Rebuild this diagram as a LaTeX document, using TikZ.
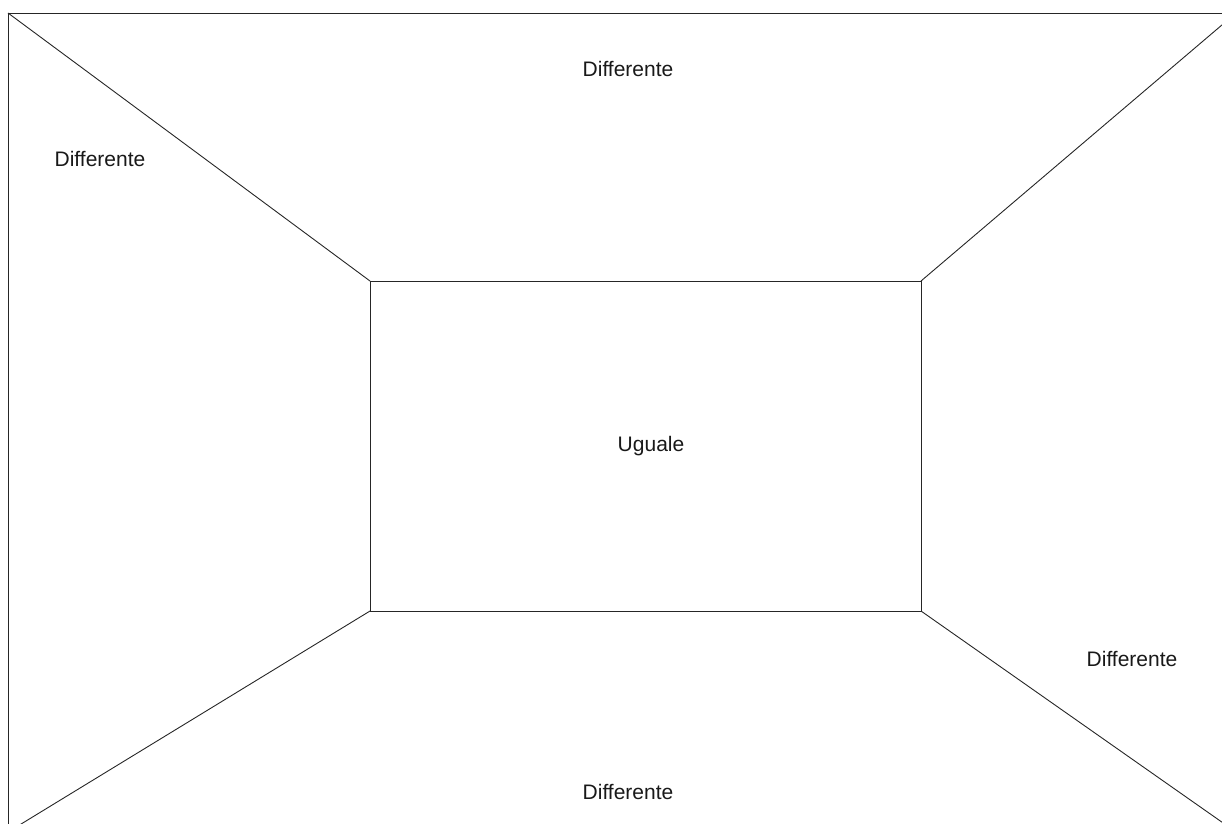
\documentclass[tikz,border=0pt]{standalone}
\usepackage{fontspec}
\setmainfont{Liberation Sans}
\begin{document}
\begin{tikzpicture}[x=1pt,y=-1pt,
  frame/.style={draw=black!85,line width=0.9pt,inner sep=0pt,outer sep=0pt,rectangle},
  edge/.style={draw=black!85,line width=0.9pt},
  lbl/.style={font=\fontsize{21}{25}\selectfont,text=black!90,inner sep=0pt}]
\useasboundingbox (0,0) rectangle (1222,823);
\begin{scope}
\clip (0,0) rectangle (1222,823);
\node[frame,minimum width=1228pt,minimum height=819pt] (outer) at (622,422.5) {};
\node[frame,minimum width=551pt,minimum height=330pt] (inner) at (645.5,446) {};
\draw[edge] (outer.north west) -- (inner.north west);
\draw[edge] (outer.north east) -- (inner.north east);
\draw[edge] (outer.south west) -- (inner.south west);
\draw[edge] (outer.south east) -- (inner.south east);
\end{scope}
\node[lbl] (t1) at (628,69) {Differente};
\node[lbl] (t2) at (100,159) {Differente};
\node[lbl] (t3) at (1132,659) {Differente};
\node[lbl] (t4) at (628,792) {Differente};
\node[lbl] (t5) at (651,446) {Uguale};
\end{tikzpicture}
\end{document}
